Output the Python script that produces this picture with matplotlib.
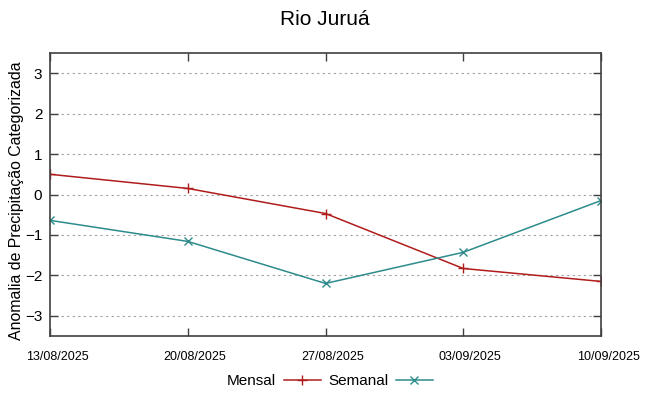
import datetime as dt
import matplotlib
matplotlib.use("Agg")
import matplotlib.pyplot as plt
import matplotlib.dates as mdates
from matplotlib.transforms import ScaledTranslation

# ---------------- DATA ----------------
dates = ["13/08/2025", "20/08/2025", "27/08/2025", "03/09/2025", "10/09/2025"]
mensal = [0.50, 0.15, -0.47, -1.83, -2.15]
semanal = [-0.64, -1.16, -2.20, -1.43, -0.15]
# --------------------------------------

x = [dt.datetime.strptime(d, "%d/%m/%Y") for d in dates]

plt.rcParams["font.family"] = ["Liberation Sans", "DejaVu Sans"]

fig = plt.figure(figsize=(6.49, 3.96), dpi=100)
ax = fig.add_axes([50 / 649, 1 - 336 / 396, 551 / 649, 283 / 396])

ax.plot(x, mensal, color="#b01c1c", lw=1.1, marker="+", ms=7, mew=1.0, label="Mensal")
ax.plot(x, semanal, color="#2e8b8b", lw=1.1, marker="x", ms=6, mew=1.0, label="Semanal")

ax.set_xlim(x[0], x[-1])
ax.set_ylim(-3.5, 3.5)
ax.set_yticks([-3, -2, -1, 0, 1, 2, 3])
ax.set_xticks(x)
ax.xaxis.set_major_formatter(mdates.DateFormatter("%d/%m/%Y"))
ax.grid(axis="y", color="#a0a0a0", linestyle=(0, (2, 3)), lw=0.8)

ax.tick_params(axis="both", direction="in", top=True, right=True, length=6, width=1, color="#404040")
ax.tick_params(axis="y", labelsize=11, pad=5.5)
ax.tick_params(axis="x", labelsize=9, pad=11)
# gnuplot puts the date labels a bit right of the tick
shift = ScaledTranslation(7 / 100, 0, fig.dpi_scale_trans)
for lbl in ax.get_xticklabels():
    lbl.set_transform(lbl.get_transform() + shift)
for sp in ax.spines.values():
    sp.set_color("#404040")
    sp.set_linewidth(1.2)

ax.set_ylabel("Anomalia de Precipitação Categorizada", fontsize=11.4)
ax.yaxis.set_label_coords(-0.047, 0.477)
fig.suptitle("Rio Juruá", fontsize=15, y=0.975)

ax.legend(loc="center", bbox_to_anchor=(0.508, -0.16), ncol=2, frameon=False,
          markerfirst=False, fontsize=11, handlelength=2.4, columnspacing=0.5,
          handletextpad=0.5)

fig.savefig("out.png", dpi=100)
